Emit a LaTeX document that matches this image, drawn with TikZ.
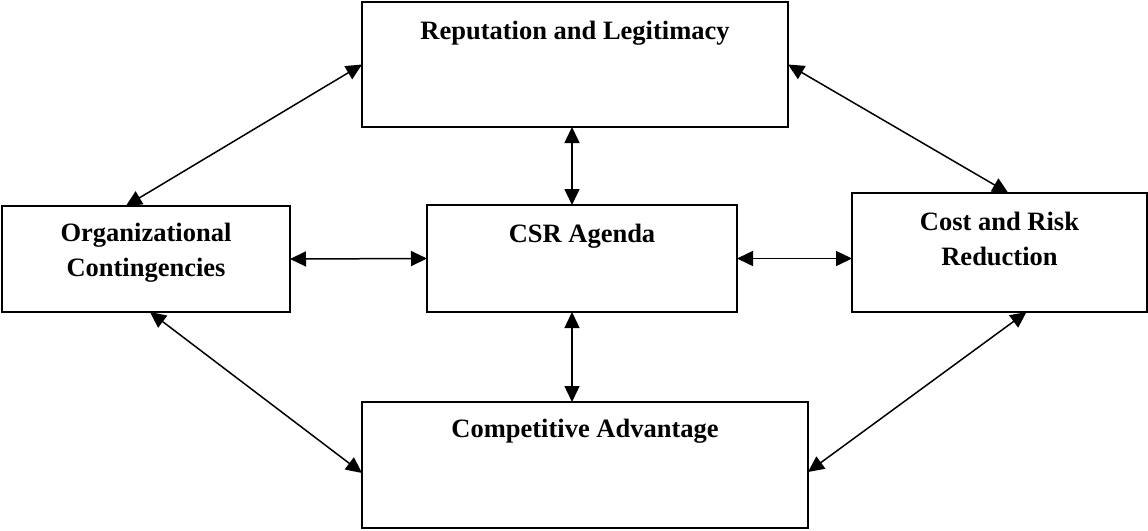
\documentclass[tikz,border=0pt]{standalone}
\usepackage{fontspec}
\setmainfont{Liberation Serif}
\usetikzlibrary{arrows.meta,calc}

\begin{document}
\begin{tikzpicture}[x=1pt,y=-1pt,<->,>={Triangle[length=16pt,width=15pt]},line width=1.5pt]
  \tikzstyle{box}=[draw,line width=2pt,inner sep=0pt,outer sep=0pt,anchor=north west]
  \tikzstyle{title}=[font=\fontsize{26.5}{35}\selectfont\bfseries,align=center,inner sep=0pt,anchor=base]
  \useasboundingbox (0,0) rectangle (1148,530);

  \node[box,minimum width=426pt,minimum height=125pt] (RL)  at (362,2)   {};
  \node[box,minimum width=288pt,minimum height=106pt] (OC)  at (2,206)   {};
  \node[box,minimum width=310pt,minimum height=107pt] (CSR) at (427,205) {};
  \node[box,minimum width=295pt,minimum height=119pt] (CR)  at (852,193) {};
  \node[box,minimum width=446pt,minimum height=126pt] (CA)  at (362,402) {};

  \node[title] (RLt)  at ([yshift=-37pt]RL.north)  {Reputation and Legitimacy};
  \node[title] (OCt)  at ([yshift=-70pt]OC.north)  {Organizational\\Contingencies};
  \node[title] (CSRt) at ([yshift=-37pt]CSR.north) {CSR Agenda};
  \node[title] (CRt)  at ([yshift=-72pt]CR.north)  {Cost and Risk\\Reduction};
  \node[title] (CAt)  at ([yshift=-35pt]CA.north)  {Competitive Advantage};

  \draw ($(OC.north west)!0.43!(OC.north east)$) -- (RL.west);
  \draw (RL.east) -- ($(CR.north west)!0.53!(CR.north east)$);
  \draw ([xshift=-10pt]CSR.north) -- ([xshift=-10pt]CSR.north |- RL.south);
  \draw ([xshift=-10pt]CSR.south) -- ([xshift=-10pt]CSR.south |- CA.north);
  \draw (OC.east) -- (CSR.west);
  \draw (CSR.east) -- (CSR.east -| CR.west);
  \draw ([xshift=4pt]OC.south) -- ([yshift=-8pt]CA.west);
  \draw ([xshift=27pt]CR.south) -- ([yshift=-7pt]CA.east);
\end{tikzpicture}
\end{document}
